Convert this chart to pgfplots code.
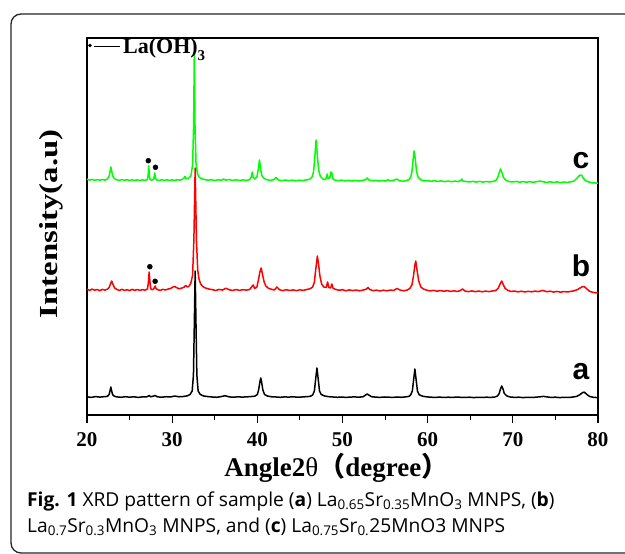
\documentclass[border=0pt]{standalone}
\usepackage{fontspec}
\setmainfont{Liberation Serif}
\newfontfamily\arialf{Liberation Sans}
\newfontfamily\cjk{Noto Sans CJK SC}
\newfontfamily\capfont{Open Sans}
\usepackage{pgfplots}
\usepackage{pgfplotstable}
\pgfplotsset{compat=1.18}

\pgfplotstableread{
x y
20.0 18.2
20.5 17.6
21.0 18.4
21.5 17.9
22.0 18.3
22.4 18.6
22.6 20.5
22.7 24
22.8 28
22.9 24
23.0 20.5
23.2 18.8
23.5 18.1
24.0 17.7
24.5 18.3
25.0 17.8
25.5 18.2
26.0 17.6
26.5 18.1
27.0 18.0
27.3 19.5
27.5 18.2
28.0 19.4
28.3 18.1
28.8 17.8
29.3 18.3
29.8 18.0
30.3 19.0
30.8 18.2
31.3 18.5
31.8 19.2
32.1 20.5
32.35 24
32.5 40
32.6 90
32.7 144
32.8 90
32.9 40
33.05 24
33.3 20.5
33.7 19.0
34.2 18.4
34.7 18.0
35.2 17.7
35.7 18.3
36.2 19.3
36.7 18.1
37.2 17.8
37.7 18.2
38.2 17.9
38.7 18.1
39.2 18.4
39.7 18.8
40.0 20.5
40.15 25
40.3 33
40.4 37
40.5 33
40.65 25
40.85 20.5
41.2 18.9
41.7 18.2
42.2 18.0
42.7 17.7
43.2 18.1
43.7 17.9
44.2 18.2
44.7 17.8
45.2 18.0
45.7 18.3
46.2 18.6
46.5 20
46.7 24
46.85 36
47.0 47
47.15 36
47.3 24
47.5 20.5
47.9 19
48.4 18.3
48.9 18.0
49.4 17.7
49.9 18.0
50.4 17.6
50.9 17.9
51.4 18.1
51.9 17.8
52.4 18.2
52.9 21
53.4 18.3
53.9 17.9
54.4 17.6
54.9 18.0
55.4 17.8
55.9 17.6
56.4 18.0
56.9 17.7
57.4 18.1
57.8 18.6
58.0 20
58.2 24
58.35 35
58.5 46
58.65 35
58.8 24
59.0 20.3
59.4 18.8
59.9 18.1
60.4 17.8
60.9 17.6
61.4 17.9
61.9 17.5
62.4 17.8
62.9 17.6
63.4 17.9
63.9 17.7
64.4 17.5
64.9 17.8
65.4 17.4
65.9 17.7
66.4 17.5
66.9 17.8
67.4 17.6
67.9 18.0
68.2 19
68.4 21.5
68.55 26
68.7 29
68.85 26
69.0 21.5
69.3 19
69.7 18.0
70.2 17.6
70.7 17.8
71.2 17.4
71.7 17.7
72.2 17.5
72.7 17.8
73.2 18.2
73.6 18.6
74.0 18.1
74.5 17.6
75.0 17.8
75.5 17.4
76.0 17.7
76.5 17.5
77.0 17.9
77.5 18.6
77.9 20.5
78.2 22.5
78.4 22.8
78.7 20.5
79.0 18.6
79.5 17.6
80.0 17.4
}\seriesA

\pgfplotstableread{
x y
20.0 125.8
20.3 124.6
20.6 125.9
20.9 124.8
21.2 125.5
21.5 124.3
21.8 125.6
22.1 124.9
22.4 125.8
22.6 127.5
22.75 131
22.9 134
23.05 130.5
23.25 127
23.5 125.6
23.8 124.5
24.1 125.7
24.4 124.6
24.7 125.3
25.0 124.4
25.3 125.6
25.6 124.7
25.9 125.5
26.2 124.6
26.5 125.4
26.8 124.8
27.1 126
27.2 132
27.3 143
27.4 132
27.5 126
27.7 125.2
27.9 127
28.0 129
28.1 126.5
28.3 125.3
28.6 124.6
28.9 125.7
29.2 125.0
29.5 125.9
29.8 126.5
30.1 128
30.3 128.5
30.5 127.5
30.8 126.2
31.1 126.8
31.4 127.8
31.6 129.5
31.8 128
32.0 129
32.2 132
32.4 140
32.55 175
32.7 247
32.85 175
33.0 145
33.15 136
33.35 131
33.6 128.5
33.9 127
34.3 126
34.7 125.4
35.1 124.5
35.5 125.6
35.9 124.9
36.3 126.8
36.7 125.2
37.1 124.5
37.5 125.5
37.9 124.6
38.3 125.3
38.7 124.9
39.1 125.5
39.5 130
39.7 126.5
39.95 128
40.15 136
40.3 143
40.45 147
40.6 141
40.8 133
41.0 129
41.3 126.8
41.7 125.6
42.0 125.0
42.3 128
42.6 125.2
43.0 124.4
43.4 125.3
43.8 124.5
44.2 125.1
44.6 124.3
45.0 125.2
45.4 124.6
45.8 125.5
46.2 126.3
46.5 128
46.7 133
46.85 145
47.05 159
47.2 150
47.35 139
47.55 131
47.8 128
48.1 127.5
48.25 133
48.4 127.5
48.6 127
48.75 131
48.9 126.6
49.2 125.6
49.6 124.7
50.0 125.3
50.4 124.2
50.8 125.1
51.2 124.4
51.6 125.0
52.0 124.2
52.4 124.9
52.8 125.8
53.0 127.5
53.2 125.5
53.6 124.3
54.0 124.9
54.4 124.0
54.8 124.8
55.2 124.2
55.6 124.9
56.0 124.6
56.4 126.5
56.8 124.8
57.2 124.2
57.6 125.0
57.9 126.5
58.15 130
58.35 140
58.5 150
58.6 154
58.75 145
58.95 134
59.2 128
59.5 126
59.9 124.8
60.3 124.0
60.7 124.7
61.1 123.8
61.5 124.5
61.9 123.7
62.3 124.4
62.7 123.6
63.1 124.2
63.5 123.5
63.8 124.3
64.1 126
64.4 123.9
64.8 123.4
65.2 124.1
65.6 123.3
66.0 124.0
66.4 123.2
66.8 123.9
67.2 123.4
67.6 124.0
68.0 124.5
68.3 127
68.5 131
68.7 134
68.9 130
69.1 126.5
69.4 124.7
69.8 123.5
70.2 124.0
70.6 123.1
71.0 123.8
71.4 123.0
71.8 123.7
72.2 123.2
72.6 123.9
73.0 123.4
73.5 124.6
74.0 123.3
74.4 123.8
74.8 122.9
75.2 123.6
75.6 122.8
76.0 123.5
76.4 123.0
76.8 123.6
77.2 124.2
77.6 125.5
77.9 127
78.2 128.5
78.4 128.3
78.7 126
79.0 123.8
79.3 122.9
79.6 122.3
80.0 122.0
}\seriesB

\pgfplotstableread{
x y
20.0 235.8
20.3 234.9
20.6 235.6
20.9 234.7
21.2 235.4
21.5 234.8
21.8 235.5
22.1 234.9
22.4 236
22.6 239
22.7 243
22.8 248
22.9 244
23.0 239.5
23.2 236.5
23.5 235.2
23.8 234.6
24.1 235.4
24.4 234.7
24.7 235.3
25.0 234.5
25.3 235.2
25.6 234.6
25.9 235.1
26.2 234.4
26.5 235.2
26.8 234.6
27.1 235.5
27.18 240
27.25 249
27.32 240
27.4 235.6
27.6 234.8
27.85 236
27.95 242
28.05 236.5
28.2 235
28.5 234.5
28.8 235.3
29.1 234.6
29.4 235.2
29.7 234.5
30.0 235.1
30.3 234.6
30.6 235.3
30.9 234.9
31.2 235.6
31.4 237
31.5 238.5
31.6 236.8
31.9 236.5
32.2 239
32.4 250
32.52 290
32.6 362
32.68 290
32.8 252
32.95 242
33.15 238
33.4 236.5
33.8 235.5
34.2 234.8
34.6 235.3
35.0 234.5
35.4 235.2
35.8 234.7
36.0 236
36.3 234.9
36.7 235.4
37.1 234.6
37.5 235.2
37.9 234.5
38.3 235.1
38.7 234.6
39.1 235.3
39.3 238
39.4 243
39.5 238
39.7 236
39.95 238
40.1 245
40.25 255
40.4 245
40.55 239
40.8 236.5
41.1 235.3
41.5 234.6
41.9 235.2
42.2 237.5
42.5 234.9
42.9 234.4
43.3 235.0
43.7 234.3
44.1 234.9
44.5 234.2
44.9 234.8
45.3 234.4
45.7 235.0
46.1 235.6
46.4 237.5
46.6 243
46.75 258
46.9 275
47.05 259
47.2 245
47.4 238.5
47.7 236
48.0 235.4
48.1 237
48.2 241
48.32 236.5
48.5 237
48.65 243
48.75 242
48.85 236.5
49.1 234.9
49.5 234.3
49.9 234.9
50.3 234.1
50.7 234.7
51.1 234.0
51.5 234.6
51.9 234.0
52.3 234.5
52.7 235.2
52.9 237
53.1 235
53.5 234.2
53.9 234.7
54.3 233.9
54.7 234.5
55.1 234.0
55.3 235.3
55.6 234.1
56.0 234.6
56.35 236
56.7 234.3
57.1 233.8
57.5 234.4
57.8 235.3
58.0 237.5
58.15 243
58.3 256
58.4 264
58.55 256
58.7 243
58.9 237.5
59.2 235.2
59.6 234.0
60.0 234.5
60.4 233.7
60.8 234.3
61.2 233.5
61.6 234.1
62.0 233.4
62.4 234.0
62.8 233.3
63.2 233.9
63.6 233.4
63.9 234.5
64.0 236
64.15 234
64.5 233.5
64.9 233.0
65.3 233.7
65.7 232.9
66.1 233.6
66.5 232.9
66.9 233.5
67.3 233.0
67.7 233.7
68.0 234.5
68.2 237
68.4 242
68.55 246
68.7 243
68.9 237.5
69.2 234.6
69.6 233.4
70.0 233.0
70.4 233.6
70.8 232.8
71.2 233.4
71.6 232.8
72.0 233.3
72.4 232.7
72.8 233.3
73.2 234
73.6 233.1
74.0 232.6
74.4 233.2
74.8 232.5
75.2 233.1
75.6 232.4
76.0 233.0
76.4 232.5
76.8 233.2
77.2 234
77.5 236.5
77.7 238.5
77.9 240
78.1 239.5
78.3 236.5
78.6 234
79.0 232.8
79.4 232.2
80.0 231.8
}\seriesC

\begin{document}
\begin{tikzpicture}
\useasboundingbox (0,0) rectangle (625pt,554pt);
\fill[white] (0,0) rectangle (625pt,554pt);
\draw[line width=1.3pt, rounded corners=10pt, black!85] (11pt,1pt) rectangle (700pt,540pt);
\begin{axis}[
  scale only axis,
  width=511pt, height=377pt,
  at={(87pt,139pt)}, anchor=south west,
  xmin=20, xmax=80, ymin=0, ymax=377,
  xtick={20,30,...,80},
  minor xtick={25,35,...,75},
  ytick=\empty,
  xtick pos=bottom,
  tick align=outside,
  major tick length=8pt,
  minor tick length=5pt,
  tick style={black, line width=1.1pt},
  axis line style={line width=1.4pt},
  /pgf/number format/assume math mode=true,
  xticklabel style={font=\fontsize{21}{21}\selectfont\bfseries, inner sep=0pt, yshift=-9pt},
  xlabel={Angle2\textmd{θ}{\cjk （}degree{\cjk ）}},
  xlabel style={font=\fontsize{27}{27}\selectfont\bfseries, at={(axis description cs:0.488,0)}, anchor=base, yshift=-61.7pt, inner sep=0pt},
  ylabel={\scalebox{1.26}[1]{Intensity(a.u)}},
  ylabel style={font=\fontsize{26}{26}\selectfont\bfseries, at={(axis description cs:-0.0581,0.507)}, anchor=base, rotate=0, inner sep=0pt},
]
\addplot[black, line width=1.5pt, line join=round] table[x=x,y=y] {\seriesA};
\addplot[red, line width=1.5pt, line join=round] table[x=x,y=y] {\seriesB};
\addplot[green, line width=1.5pt, line join=round] table[x=x,y=y] {\seriesC};
\addplot[only marks, mark=*, mark size=2.5pt, black] coordinates {(27.2,254.3) (28.04,247.7) (27.38,148.3) (28.0,133.7)};
\addplot[only marks, mark=*, mark size=1.5pt, black] coordinates {(20.35,369.5)};
\node[anchor=base west, inner sep=0pt, font=\fontsize{22}{22}\selectfont\bfseries] at (axis cs:20.82,361.7) {\rule[6.5pt]{26pt}{1.1pt}\hspace{3pt}La(OH)\raisebox{-7pt}{\fontsize{15}{15}\selectfont 3}};
\node[anchor=base, inner sep=0pt, font=\arialf\fontsize{30}{30}\selectfont\bfseries] at (axis cs:78.0,246.7) {c};
\node[anchor=base, inner sep=0pt, font=\arialf\fontsize{30}{30}\selectfont\bfseries] at (axis cs:78.0,138.3) {b};
\node[anchor=base, inner sep=0pt, font=\arialf\fontsize{30}{30}\selectfont\bfseries] at (axis cs:78.0,35) {a};
\end{axis}
\node[anchor=base west, inner sep=0pt, font=\capfont\fontsize{19.2}{19.2}\selectfont] at (27pt,47.3pt) {\textbf{Fig. 1} XRD pattern of sample (\textbf{a}) La\textsubscript{0.65}Sr\textsubscript{0.35}MnO\textsubscript{3} MNPS, (\textbf{b})};
\node[anchor=base west, inner sep=0pt, font=\capfont\fontsize{19.2}{19.2}\selectfont] at (27pt,21.3pt) {La\textsubscript{0.7}Sr\textsubscript{0.3}MnO\textsubscript{3} MNPS, and (\textbf{c}) La\textsubscript{0.75}Sr\textsubscript{0.}25MnO3 MNPS};
\end{tikzpicture}
\end{document}
